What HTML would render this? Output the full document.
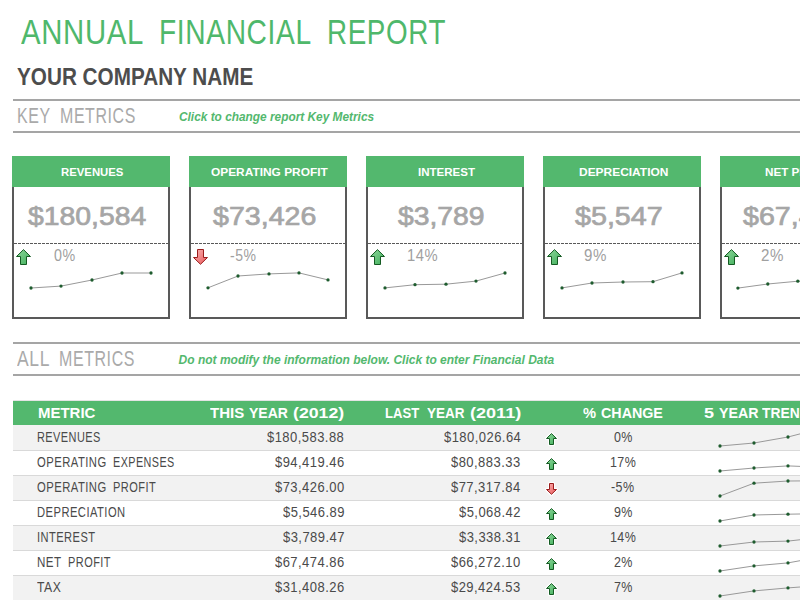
<!DOCTYPE html>
<html><head><meta charset="utf-8"><title>Annual Financial Report</title>
<style>
html,body{margin:0;padding:0;background:#fff;}
body{width:800px;height:600px;overflow:hidden;position:relative;font-family:"Liberation Sans",Arial,sans-serif;}
.t{position:absolute;white-space:nowrap;line-height:1;transform-origin:0 0;}
.r{position:absolute;}
svg{position:absolute;left:0;top:0;}
</style></head><body>
<div class="t" style="left:20.50px;top:14.17px;font-size:35.2px;color:#4fb86b;letter-spacing:0.8px;transform:scaleX(0.8339);">ANNUAL</div>
<div class="t" style="left:158.75px;top:14.17px;font-size:35.2px;color:#4fb86b;letter-spacing:0.8px;transform:scaleX(0.7996);">FINANCIAL</div>
<div class="t" style="left:326.78px;top:14.17px;font-size:35.2px;color:#4fb86b;letter-spacing:0.8px;transform:scaleX(0.7898);">REPORT</div>
<div class="t" style="left:17.49px;top:64.73px;font-size:23.8px;color:#4d4d4d;font-weight:bold;transform:scaleX(0.8703);">YOUR COMPANY NAME</div>
<div class="r" style="left:13px;top:99px;width:787px;height:2px;background:#a5a5a5;"></div>
<div class="r" style="left:13px;top:131px;width:787px;height:2px;background:#a5a5a5;"></div>
<div class="t" style="left:16.73px;top:104.54px;font-size:21.8px;color:#aaaaaa;letter-spacing:0.8px;transform:scaleX(0.7303);">KEY</div>
<div class="t" style="left:59.52px;top:104.54px;font-size:21.8px;color:#aaaaaa;letter-spacing:0.8px;transform:scaleX(0.7322);">METRICS</div>
<div class="t" style="left:178.77px;top:111.30px;font-size:12px;color:#53b86e;font-weight:bold;font-style:italic;transform:scaleX(0.9884);">Click to change report Key Metrics</div>
<div class="r" style="left:13px;top:342px;width:787px;height:2px;background:#a5a5a5;"></div>
<div class="r" style="left:13px;top:374px;width:787px;height:2px;background:#a5a5a5;"></div>
<div class="t" style="left:17.10px;top:347.54px;font-size:21.8px;color:#aaaaaa;letter-spacing:0.8px;transform:scaleX(0.8008);">ALL</div>
<div class="t" style="left:59.12px;top:347.54px;font-size:21.8px;color:#aaaaaa;letter-spacing:0.8px;transform:scaleX(0.7332);">METRICS</div>
<div class="t" style="left:178.57px;top:354.10px;font-size:12px;color:#53b86e;font-weight:bold;font-style:italic;">Do not modify the information below. Click to enter Financial Data</div>
<div class="r" style="left:12px;top:156px;width:158px;height:31px;background:#53b86e;"></div>
<div class="r" style="left:12px;top:187px;width:158px;height:132px;background:#fff;border:2px solid #595959;border-top:0;box-sizing:border-box;"></div>
<div class="t" style="left:61.01px;top:166.64px;font-size:11px;color:#fff;font-weight:bold;transform:scaleX(1.0312);">REVENUES</div>
<div class="t" style="left:28.47px;top:204.16px;font-size:25.5px;color:#a6a6a6;transform:scaleX(1.1120);-webkit-text-stroke:0.7px #a6a6a6;">$180,584</div>
<div class="r" style="left:14px;top:243px;width:154px;height:1px;background:transparent;background:repeating-linear-gradient(90deg,#595959 0 3px,transparent 3px 4px);"></div>
<div class="t" style="left:53.80px;top:247.70px;font-size:15.7px;color:#a0a0a0;letter-spacing:0.6px;transform:scaleX(0.9097);">0%</div>
<div class="r" style="left:189px;top:156px;width:158px;height:31px;background:#53b86e;"></div>
<div class="r" style="left:189px;top:187px;width:158px;height:132px;background:#fff;border:2px solid #595959;border-top:0;box-sizing:border-box;"></div>
<div class="t" style="left:211.12px;top:166.64px;font-size:11px;color:#fff;font-weight:bold;transform:scaleX(1.0813);">OPERATING PROFIT</div>
<div class="t" style="left:213.36px;top:204.16px;font-size:25.5px;color:#a6a6a6;transform:scaleX(1.1208);-webkit-text-stroke:0.7px #a6a6a6;">$73,426</div>
<div class="r" style="left:191px;top:243px;width:154px;height:1px;background:transparent;background:repeating-linear-gradient(90deg,#595959 0 3px,transparent 3px 4px);"></div>
<div class="t" style="left:230.19px;top:247.70px;font-size:15.7px;color:#a0a0a0;letter-spacing:0.6px;transform:scaleX(0.8943);">-5%</div>
<div class="r" style="left:366px;top:156px;width:158px;height:31px;background:#53b86e;"></div>
<div class="r" style="left:366px;top:187px;width:158px;height:132px;background:#fff;border:2px solid #595959;border-top:0;box-sizing:border-box;"></div>
<div class="t" style="left:417.75px;top:166.64px;font-size:11px;color:#fff;font-weight:bold;transform:scaleX(1.0464);">INTEREST</div>
<div class="t" style="left:398.47px;top:204.16px;font-size:25.5px;color:#a6a6a6;transform:scaleX(1.1102);-webkit-text-stroke:0.7px #a6a6a6;">$3,789</div>
<div class="r" style="left:368px;top:243px;width:154px;height:1px;background:transparent;background:repeating-linear-gradient(90deg,#595959 0 3px,transparent 3px 4px);"></div>
<div class="t" style="left:407.29px;top:247.70px;font-size:15.7px;color:#a0a0a0;letter-spacing:0.6px;transform:scaleX(0.9415);">14%</div>
<div class="r" style="left:543px;top:156px;width:158px;height:31px;background:#53b86e;"></div>
<div class="r" style="left:543px;top:187px;width:158px;height:132px;background:#fff;border:2px solid #595959;border-top:0;box-sizing:border-box;"></div>
<div class="t" style="left:578.82px;top:166.64px;font-size:11px;color:#fff;font-weight:bold;transform:scaleX(1.0860);">DEPRECIATION</div>
<div class="t" style="left:574.81px;top:204.16px;font-size:25.5px;color:#a6a6a6;transform:scaleX(1.1246);-webkit-text-stroke:0.7px #a6a6a6;">$5,547</div>
<div class="r" style="left:545px;top:243px;width:154px;height:1px;background:transparent;background:repeating-linear-gradient(90deg,#595959 0 3px,transparent 3px 4px);"></div>
<div class="t" style="left:584.12px;top:247.70px;font-size:15.7px;color:#a0a0a0;letter-spacing:0.6px;transform:scaleX(0.9615);">9%</div>
<div class="r" style="left:720px;top:156px;width:158px;height:31px;background:#53b86e;"></div>
<div class="r" style="left:720px;top:187px;width:158px;height:132px;background:#fff;border:2px solid #595959;border-top:0;box-sizing:border-box;"></div>
<div class="t" style="left:765.40px;top:166.64px;font-size:11px;color:#fff;font-weight:bold;transform:scaleX(1.0600);">NET PROFIT</div>
<div class="t" style="left:743.01px;top:204.16px;font-size:25.5px;color:#a6a6a6;transform:scaleX(1.1225);-webkit-text-stroke:0.7px #a6a6a6;">$67,475</div>
<div class="r" style="left:722px;top:243px;width:154px;height:1px;background:transparent;background:repeating-linear-gradient(90deg,#595959 0 3px,transparent 3px 4px);"></div>
<div class="t" style="left:760.94px;top:247.70px;font-size:15.7px;color:#a0a0a0;letter-spacing:0.6px;transform:scaleX(0.9649);">2%</div>
<div class="r" style="left:13px;top:400px;width:787px;height:1px;background:#e4e4e4;"></div>
<div class="r" style="left:13px;top:401px;width:787px;height:24px;background:#53b86e;"></div>
<div class="t" style="left:37.78px;top:405.70px;font-size:14.5px;color:#fff;font-weight:bold;transform:scaleX(1.0324);">METRIC</div>
<div class="t" style="left:210.35px;top:405.70px;font-size:14.5px;color:#fff;font-weight:bold;transform:scaleX(1.0356);">THIS</div>
<div class="t" style="left:248.79px;top:405.70px;font-size:14.5px;color:#fff;font-weight:bold;transform:scaleX(0.9669);">YEAR</div>
<div class="t" style="left:293.20px;top:405.70px;font-size:14.5px;color:#fff;font-weight:bold;transform:scaleX(1.2203);">(2012)</div>
<div class="t" style="left:384.95px;top:405.70px;font-size:14.5px;color:#fff;font-weight:bold;transform:scaleX(0.9014);">LAST</div>
<div class="t" style="left:426.80px;top:405.70px;font-size:14.5px;color:#fff;font-weight:bold;transform:scaleX(0.9292);">YEAR</div>
<div class="t" style="left:469.69px;top:405.70px;font-size:14.5px;color:#fff;font-weight:bold;transform:scaleX(1.2448);">(2011)</div>
<div class="t" style="left:583.31px;top:405.70px;font-size:14.5px;color:#fff;font-weight:bold;transform:scaleX(1.0120);">%</div>
<div class="t" style="left:601.03px;top:405.70px;font-size:14.5px;color:#fff;font-weight:bold;transform:scaleX(0.9851);">CHANGE</div>
<div class="t" style="left:704.21px;top:405.70px;font-size:14.5px;color:#fff;font-weight:bold;transform:scaleX(1.2414);">5</div>
<div class="t" style="left:718.54px;top:405.70px;font-size:14.5px;color:#fff;font-weight:bold;transform:scaleX(0.9794);">YEAR</div>
<div class="t" style="left:762.36px;top:405.70px;font-size:14.5px;color:#fff;font-weight:bold;transform:scaleX(0.9541);">TREND</div>
<div class="r" style="left:13px;top:425px;width:787px;height:25px;background:#f2f2f2;"></div>
<div class="t" style="left:36.82px;top:429.90px;font-size:14.5px;color:#4a4a4a;letter-spacing:0.6px;transform:scaleX(0.7548);">REVENUES</div>
<div class="t" style="left:267.34px;top:429.90px;font-size:14.5px;color:#4a4a4a;letter-spacing:0.5px;transform:scaleX(0.8968);">$180,583.88</div>
<div class="t" style="left:443.54px;top:429.90px;font-size:14.5px;color:#4a4a4a;letter-spacing:0.5px;transform:scaleX(0.8968);">$180,026.64</div>
<div class="t" style="left:613.76px;top:429.90px;font-size:14.5px;color:#4a4a4a;letter-spacing:0.5px;transform:scaleX(0.8610);">0%</div>
<div class="r" style="left:13px;top:450px;width:787px;height:1px;background:#d9d9d9;"></div>
<div class="t" style="left:37.09px;top:454.90px;font-size:14.5px;color:#4a4a4a;letter-spacing:0.6px;transform:scaleX(0.7768);">OPERATING</div>
<div class="t" style="left:112.74px;top:454.90px;font-size:14.5px;color:#4a4a4a;letter-spacing:0.6px;transform:scaleX(0.7444);">EXPENSES</div>
<div class="t" style="left:275.02px;top:454.90px;font-size:14.5px;color:#4a4a4a;letter-spacing:0.5px;transform:scaleX(0.8968);">$94,419.46</div>
<div class="t" style="left:451.42px;top:454.90px;font-size:14.5px;color:#4a4a4a;letter-spacing:0.5px;transform:scaleX(0.8968);">$80,883.33</div>
<div class="t" style="left:609.82px;top:454.90px;font-size:14.5px;color:#4a4a4a;letter-spacing:0.5px;transform:scaleX(0.8610);">17%</div>
<div class="r" style="left:13px;top:475px;width:787px;height:25px;background:#f2f2f2;"></div>
<div class="r" style="left:13px;top:475px;width:787px;height:1px;background:#d9d9d9;"></div>
<div class="t" style="left:37.09px;top:479.90px;font-size:14.5px;color:#4a4a4a;letter-spacing:0.6px;transform:scaleX(0.7768);">OPERATING</div>
<div class="t" style="left:113.02px;top:479.90px;font-size:14.5px;color:#4a4a4a;letter-spacing:0.6px;transform:scaleX(0.7605);">PROFIT</div>
<div class="t" style="left:274.95px;top:479.90px;font-size:14.5px;color:#4a4a4a;letter-spacing:0.5px;transform:scaleX(0.8968);">$73,426.00</div>
<div class="t" style="left:451.22px;top:479.90px;font-size:14.5px;color:#4a4a4a;letter-spacing:0.5px;transform:scaleX(0.8968);">$77,317.84</div>
<div class="t" style="left:611.43px;top:479.90px;font-size:14.5px;color:#4a4a4a;letter-spacing:0.5px;transform:scaleX(0.8610);">-5%</div>
<div class="r" style="left:13px;top:500px;width:787px;height:1px;background:#d9d9d9;"></div>
<div class="t" style="left:36.71px;top:504.90px;font-size:14.5px;color:#4a4a4a;letter-spacing:0.6px;transform:scaleX(0.7714);">DEPRECIATION</div>
<div class="t" style="left:282.76px;top:504.90px;font-size:14.5px;color:#4a4a4a;letter-spacing:0.5px;transform:scaleX(0.8968);">$5,546.89</div>
<div class="t" style="left:459.16px;top:504.90px;font-size:14.5px;color:#4a4a4a;letter-spacing:0.5px;transform:scaleX(0.8968);">$5,068.42</div>
<div class="t" style="left:613.70px;top:504.90px;font-size:14.5px;color:#4a4a4a;letter-spacing:0.5px;transform:scaleX(0.8610);">9%</div>
<div class="r" style="left:13px;top:525px;width:787px;height:25px;background:#f2f2f2;"></div>
<div class="r" style="left:13px;top:525px;width:787px;height:1px;background:#d9d9d9;"></div>
<div class="t" style="left:36.60px;top:529.90px;font-size:14.5px;color:#4a4a4a;letter-spacing:0.6px;transform:scaleX(0.7645);">INTEREST</div>
<div class="t" style="left:282.76px;top:529.90px;font-size:14.5px;color:#4a4a4a;letter-spacing:0.5px;transform:scaleX(0.8968);">$3,789.47</div>
<div class="t" style="left:459.16px;top:529.90px;font-size:14.5px;color:#4a4a4a;letter-spacing:0.5px;transform:scaleX(0.8968);">$3,338.31</div>
<div class="t" style="left:609.82px;top:529.90px;font-size:14.5px;color:#4a4a4a;letter-spacing:0.5px;transform:scaleX(0.8610);">14%</div>
<div class="r" style="left:13px;top:550px;width:787px;height:1px;background:#d9d9d9;"></div>
<div class="t" style="left:36.87px;top:554.90px;font-size:14.5px;color:#4a4a4a;letter-spacing:0.6px;transform:scaleX(0.8003);">NET</div>
<div class="t" style="left:67.92px;top:554.90px;font-size:14.5px;color:#4a4a4a;letter-spacing:0.6px;transform:scaleX(0.7568);">PROFIT</div>
<div class="t" style="left:275.02px;top:554.90px;font-size:14.5px;color:#4a4a4a;letter-spacing:0.5px;transform:scaleX(0.8968);">$67,474.86</div>
<div class="t" style="left:451.35px;top:554.90px;font-size:14.5px;color:#4a4a4a;letter-spacing:0.5px;transform:scaleX(0.8968);">$66,272.10</div>
<div class="t" style="left:613.66px;top:554.90px;font-size:14.5px;color:#4a4a4a;letter-spacing:0.5px;transform:scaleX(0.8610);">2%</div>
<div class="r" style="left:13px;top:575px;width:787px;height:25px;background:#f2f2f2;"></div>
<div class="r" style="left:13px;top:575px;width:787px;height:1px;background:#d9d9d9;"></div>
<div class="t" style="left:37.36px;top:579.90px;font-size:14.5px;color:#4a4a4a;letter-spacing:0.6px;transform:scaleX(0.8421);">TAX</div>
<div class="t" style="left:275.02px;top:579.90px;font-size:14.5px;color:#4a4a4a;letter-spacing:0.5px;transform:scaleX(0.8968);">$31,408.26</div>
<div class="t" style="left:451.42px;top:579.90px;font-size:14.5px;color:#4a4a4a;letter-spacing:0.5px;transform:scaleX(0.8968);">$29,424.53</div>
<div class="t" style="left:613.66px;top:579.90px;font-size:14.5px;color:#4a4a4a;letter-spacing:0.5px;transform:scaleX(0.8610);">7%</div>
<svg width="800" height="600" viewBox="0 0 800 600">
<defs>
<linearGradient id="gu" x1="0" y1="0" x2="1" y2="1"><stop offset="0" stop-color="#8fd89c"/><stop offset="1" stop-color="#3fae5a"/></linearGradient>
<linearGradient id="gd" x1="0" y1="0" x2="1" y2="1"><stop offset="0" stop-color="#fbb3b3"/><stop offset="1" stop-color="#e8585a"/></linearGradient>
</defs>
<polygon points="23.50,249.60 30.50,256.50 26.50,256.50 26.50,264.50 20.50,264.50 20.50,256.50 16.50,256.50" fill="url(#gu)" stroke="#145a22" stroke-width="1" stroke-linejoin="miter"/>
<polyline points="31.0,288.0 61.0,286.1 92.0,280.0 122.0,273.0 151.0,273.0" fill="none" stroke="#999" stroke-width="1"/>
<circle cx="31.0" cy="288.0" r="1.65" fill="#1e5c2e"/>
<circle cx="61.0" cy="286.1" r="1.65" fill="#1e5c2e"/>
<circle cx="92.0" cy="280.0" r="1.65" fill="#1e5c2e"/>
<circle cx="122.0" cy="273.0" r="1.65" fill="#1e5c2e"/>
<circle cx="151.0" cy="273.0" r="1.65" fill="#1e5c2e"/>
<polygon points="197.50,249.50 203.50,249.50 203.50,257.50 207.50,257.50 200.50,264.30 193.50,257.50 197.50,257.50" fill="url(#gd)" stroke="#9a1c1c" stroke-width="1" stroke-linejoin="miter"/>
<polyline points="208.0,287.8 238.0,276.0 269.0,273.9 299.0,272.9 328.0,279.9" fill="none" stroke="#999" stroke-width="1"/>
<circle cx="208.0" cy="287.8" r="1.65" fill="#1e5c2e"/>
<circle cx="238.0" cy="276.0" r="1.65" fill="#1e5c2e"/>
<circle cx="269.0" cy="273.9" r="1.65" fill="#1e5c2e"/>
<circle cx="299.0" cy="272.9" r="1.65" fill="#1e5c2e"/>
<circle cx="328.0" cy="279.9" r="1.65" fill="#1e5c2e"/>
<polygon points="377.50,249.60 384.50,256.50 380.50,256.50 380.50,264.50 374.50,264.50 374.50,256.50 370.50,256.50" fill="url(#gu)" stroke="#145a22" stroke-width="1" stroke-linejoin="miter"/>
<polyline points="385.0,287.9 415.0,284.7 446.0,284.2 476.0,281.1 505.0,273.0" fill="none" stroke="#999" stroke-width="1"/>
<circle cx="385.0" cy="287.9" r="1.65" fill="#1e5c2e"/>
<circle cx="415.0" cy="284.7" r="1.65" fill="#1e5c2e"/>
<circle cx="446.0" cy="284.2" r="1.65" fill="#1e5c2e"/>
<circle cx="476.0" cy="281.1" r="1.65" fill="#1e5c2e"/>
<circle cx="505.0" cy="273.0" r="1.65" fill="#1e5c2e"/>
<polygon points="554.50,249.60 561.50,256.50 557.50,256.50 557.50,264.50 551.50,264.50 551.50,256.50 547.50,256.50" fill="url(#gu)" stroke="#145a22" stroke-width="1" stroke-linejoin="miter"/>
<polyline points="562.0,287.9 592.0,283.0 623.0,282.0 653.0,281.7 682.0,272.9" fill="none" stroke="#999" stroke-width="1"/>
<circle cx="562.0" cy="287.9" r="1.65" fill="#1e5c2e"/>
<circle cx="592.0" cy="283.0" r="1.65" fill="#1e5c2e"/>
<circle cx="623.0" cy="282.0" r="1.65" fill="#1e5c2e"/>
<circle cx="653.0" cy="281.7" r="1.65" fill="#1e5c2e"/>
<circle cx="682.0" cy="272.9" r="1.65" fill="#1e5c2e"/>
<polygon points="731.50,249.60 738.50,256.50 734.50,256.50 734.50,264.50 728.50,264.50 728.50,256.50 724.50,256.50" fill="url(#gu)" stroke="#145a22" stroke-width="1" stroke-linejoin="miter"/>
<polyline points="737.9,288.1 767.8,284.0 797.8,281.2 827.7,279.5 857.6,272.9" fill="none" stroke="#999" stroke-width="1"/>
<circle cx="737.9" cy="288.1" r="1.65" fill="#1e5c2e"/>
<circle cx="767.8" cy="284.0" r="1.65" fill="#1e5c2e"/>
<circle cx="797.8" cy="281.2" r="1.65" fill="#1e5c2e"/>
<circle cx="827.7" cy="279.5" r="1.65" fill="#1e5c2e"/>
<circle cx="857.6" cy="272.9" r="1.65" fill="#1e5c2e"/>
<polygon points="551.50,433.60 556.50,438.50 553.50,438.50 553.50,444.50 549.50,444.50 549.50,438.50 546.50,438.50" fill="#fff" stroke="#fff" stroke-width="3" stroke-linejoin="round"/><polygon points="551.50,433.60 556.50,438.50 553.50,438.50 553.50,444.50 549.50,444.50 549.50,438.50 546.50,438.50" fill="url(#gu)" stroke="#145a22" stroke-width="1" stroke-linejoin="miter"/>
<polyline points="720.0,446.0 754.0,443.0 788.0,437.0 822.0,428.2" fill="none" stroke="#999" stroke-width="1"/>
<circle cx="720.0" cy="446.0" r="1.65" fill="#1e5c2e"/>
<circle cx="754.0" cy="443.0" r="1.65" fill="#1e5c2e"/>
<circle cx="788.0" cy="437.0" r="1.65" fill="#1e5c2e"/>
<circle cx="822.0" cy="428.2" r="1.65" fill="#1e5c2e"/>
<polygon points="551.50,458.60 556.50,463.50 553.50,463.50 553.50,469.50 549.50,469.50 549.50,463.50 546.50,463.50" fill="#fff" stroke="#fff" stroke-width="3" stroke-linejoin="round"/><polygon points="551.50,458.60 556.50,463.50 553.50,463.50 553.50,469.50 549.50,469.50 549.50,463.50 546.50,463.50" fill="url(#gu)" stroke="#145a22" stroke-width="1" stroke-linejoin="miter"/>
<polyline points="720.0,471.0 754.0,468.0 788.0,465.9 822.0,467.3" fill="none" stroke="#999" stroke-width="1"/>
<circle cx="720.0" cy="471.0" r="1.65" fill="#1e5c2e"/>
<circle cx="754.0" cy="468.0" r="1.65" fill="#1e5c2e"/>
<circle cx="788.0" cy="465.9" r="1.65" fill="#1e5c2e"/>
<circle cx="822.0" cy="467.3" r="1.65" fill="#1e5c2e"/>
<polygon points="549.50,483.50 553.50,483.50 553.50,489.50 556.50,489.50 551.50,494.30 546.50,489.50 549.50,489.50" fill="#fff" stroke="#fff" stroke-width="3" stroke-linejoin="round"/><polygon points="549.50,483.50 553.50,483.50 553.50,489.50 556.50,489.50 551.50,494.30 546.50,489.50 549.50,489.50" fill="url(#gd)" stroke="#9a1c1c" stroke-width="1" stroke-linejoin="miter"/>
<polyline points="720.0,496.0 754.0,483.2 788.0,481.0 822.0,480.8" fill="none" stroke="#999" stroke-width="1"/>
<circle cx="720.0" cy="496.0" r="1.65" fill="#1e5c2e"/>
<circle cx="754.0" cy="483.2" r="1.65" fill="#1e5c2e"/>
<circle cx="788.0" cy="481.0" r="1.65" fill="#1e5c2e"/>
<circle cx="822.0" cy="480.8" r="1.65" fill="#1e5c2e"/>
<polygon points="551.50,508.60 556.50,513.50 553.50,513.50 553.50,519.50 549.50,519.50 549.50,513.50 546.50,513.50" fill="#fff" stroke="#fff" stroke-width="3" stroke-linejoin="round"/><polygon points="551.50,508.60 556.50,513.50 553.50,513.50 553.50,519.50 549.50,519.50 549.50,513.50 546.50,513.50" fill="url(#gu)" stroke="#145a22" stroke-width="1" stroke-linejoin="miter"/>
<polyline points="720.0,521.0 754.0,515.0 788.0,514.2 822.0,513.6" fill="none" stroke="#999" stroke-width="1"/>
<circle cx="720.0" cy="521.0" r="1.65" fill="#1e5c2e"/>
<circle cx="754.0" cy="515.0" r="1.65" fill="#1e5c2e"/>
<circle cx="788.0" cy="514.2" r="1.65" fill="#1e5c2e"/>
<circle cx="822.0" cy="513.6" r="1.65" fill="#1e5c2e"/>
<polygon points="551.50,533.60 556.50,538.50 553.50,538.50 553.50,544.50 549.50,544.50 549.50,538.50 546.50,538.50" fill="#fff" stroke="#fff" stroke-width="3" stroke-linejoin="round"/><polygon points="551.50,533.60 556.50,538.50 553.50,538.50 553.50,544.50 549.50,544.50 549.50,538.50 546.50,538.50" fill="url(#gu)" stroke="#145a22" stroke-width="1" stroke-linejoin="miter"/>
<polyline points="720.0,546.0 754.0,542.0 788.0,541.1 822.0,537.3" fill="none" stroke="#999" stroke-width="1"/>
<circle cx="720.0" cy="546.0" r="1.65" fill="#1e5c2e"/>
<circle cx="754.0" cy="542.0" r="1.65" fill="#1e5c2e"/>
<circle cx="788.0" cy="541.1" r="1.65" fill="#1e5c2e"/>
<circle cx="822.0" cy="537.3" r="1.65" fill="#1e5c2e"/>
<polygon points="551.50,558.60 556.50,563.50 553.50,563.50 553.50,569.50 549.50,569.50 549.50,563.50 546.50,563.50" fill="#fff" stroke="#fff" stroke-width="3" stroke-linejoin="round"/><polygon points="551.50,558.60 556.50,563.50 553.50,563.50 553.50,569.50 549.50,569.50 549.50,563.50 546.50,563.50" fill="url(#gu)" stroke="#145a22" stroke-width="1" stroke-linejoin="miter"/>
<polyline points="720.0,571.0 754.0,565.9 788.0,562.9 822.0,556.7" fill="none" stroke="#999" stroke-width="1"/>
<circle cx="720.0" cy="571.0" r="1.65" fill="#1e5c2e"/>
<circle cx="754.0" cy="565.9" r="1.65" fill="#1e5c2e"/>
<circle cx="788.0" cy="562.9" r="1.65" fill="#1e5c2e"/>
<circle cx="822.0" cy="556.7" r="1.65" fill="#1e5c2e"/>
<polygon points="551.50,583.60 556.50,588.50 553.50,588.50 553.50,594.50 549.50,594.50 549.50,588.50 546.50,588.50" fill="#fff" stroke="#fff" stroke-width="3" stroke-linejoin="round"/><polygon points="551.50,583.60 556.50,588.50 553.50,588.50 553.50,594.50 549.50,594.50 549.50,588.50 546.50,588.50" fill="url(#gu)" stroke="#145a22" stroke-width="1" stroke-linejoin="miter"/>
<polyline points="720.0,596.0 754.0,590.9 788.0,587.9 822.0,585.4" fill="none" stroke="#999" stroke-width="1"/>
<circle cx="720.0" cy="596.0" r="1.65" fill="#1e5c2e"/>
<circle cx="754.0" cy="590.9" r="1.65" fill="#1e5c2e"/>
<circle cx="788.0" cy="587.9" r="1.65" fill="#1e5c2e"/>
<circle cx="822.0" cy="585.4" r="1.65" fill="#1e5c2e"/>
</svg>
</body></html>
